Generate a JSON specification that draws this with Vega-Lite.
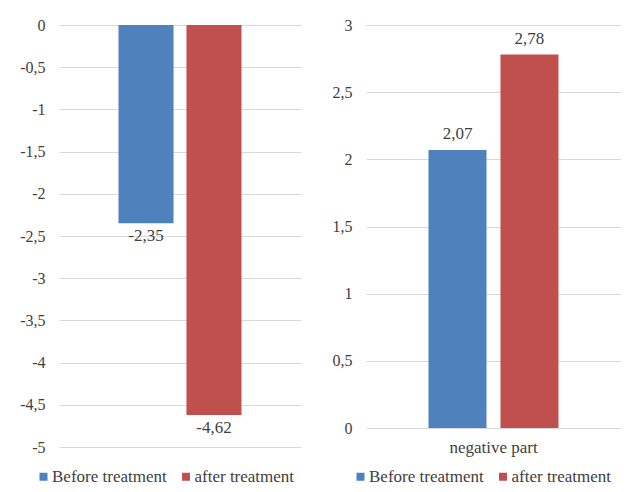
{
  "$schema": "https://vega.github.io/schema/vega-lite/v6.json",
  "padding": {"left": 19, "top": 17, "right": 0, "bottom": 0},
  "background": "white",
  "spacing": 31,
  "config": {
    "view": {"stroke": null},
    "font": "Liberation Serif",
    "locale": {
      "number": {"decimal": ",", "thousands": " ", "grouping": [3], "currency": ["", ""], "minus": "-"}
    },
    "axis": {
      "labelFont": "Liberation Serif",
      "labelFontSize": 16,
      "labelColor": "#404040",
      "domain": false,
      "ticks": false,
      "tickSize": 0,
      "gridColor": "#d9d9d9",
      "gridWidth": 1,
      "title": null
    },
    "legend": {
      "title": null,
      "orient": "none",
      "direction": "horizontal",
      "labelFont": "Liberation Serif",
      "labelFontSize": 17,
      "labelColor": "#404040",
      "symbolType": "square",
      "symbolSize": 64,
      "symbolStrokeWidth": 0,
      "labelOffset": 0,
      "columnPadding": 10.5
    }
  },
  "resolve": {
    "scale": {"color": "independent", "x": "independent", "y": "independent", "xOffset": "independent"},
    "legend": {"color": "independent"}
  },
  "hconcat": [
    {
      "width": 242,
      "height": 422,
      "data": {
        "values": [
          {"part": "total", "series": "Before treatment", "value": -2.35},
          {"part": "total", "series": "after treatment", "value": -4.62}
        ]
      },
      "encoding": {
        "x": {"field": "part", "type": "nominal", "axis": null, "scale": {"paddingInner": 0, "paddingOuter": 0.484}},
        "xOffset": {"field": "series", "type": "nominal", "scale": {"domain": ["Before treatment", "after treatment"], "paddingInner": 0.19, "paddingOuter": 0}},
        "y": {
          "field": "value",
          "type": "quantitative",
          "scale": {"domain": [-5, 0], "nice": false},
          "axis": {"tickCount": 10, "format": "~g", "labelPadding": 14}
        }
      },
      "layer": [
        {
          "mark": {"type": "bar"},
          "encoding": {
            "color": {
              "field": "series",
              "type": "nominal",
              "scale": {"domain": ["Before treatment", "after treatment"], "range": ["#4F81BD", "#C0504D"]},
              "legend": {"legendX": -24, "legendY": 443}
            }
          }
        },
        {
          "mark": {"type": "text", "baseline": "top", "dy": 5, "fontSize": 17, "color": "#404040", "font": "Liberation Serif"},
          "encoding": {
            "text": {"field": "value", "type": "quantitative", "format": ".2f"}
          }
        }
      ]
    },
    {
      "width": 255,
      "height": 403,
      "data": {
        "values": [
          {"part": "negative part", "series": "Before treatment", "value": 2.07},
          {"part": "negative part", "series": "after treatment", "value": 2.78}
        ]
      },
      "encoding": {
        "x": {"field": "part", "type": "nominal", "axis": {"labelAngle": 0, "labelPadding": 11, "labelFontSize": 17, "grid": false}, "scale": {"paddingInner": 0, "paddingOuter": 0.481}},
        "xOffset": {"field": "series", "type": "nominal", "scale": {"domain": ["Before treatment", "after treatment"], "paddingInner": 0.194, "paddingOuter": 0}},
        "y": {
          "field": "value",
          "type": "quantitative",
          "scale": {"domain": [0, 3], "nice": false},
          "axis": {"tickCount": 6, "format": "~g", "labelPadding": 14}
        }
      },
      "layer": [
        {
          "mark": {"type": "bar"},
          "encoding": {
            "color": {
              "field": "series",
              "type": "nominal",
              "scale": {"domain": ["Before treatment", "after treatment"], "range": ["#4F81BD", "#C0504D"]},
              "legend": {"legendX": -14, "legendY": 443}
            }
          }
        },
        {
          "mark": {"type": "text", "baseline": "bottom", "dy": -7, "fontSize": 17, "color": "#404040", "font": "Liberation Serif"},
          "encoding": {
            "text": {"field": "value", "type": "quantitative", "format": ".2f"}
          }
        }
      ]
    }
  ]
}
